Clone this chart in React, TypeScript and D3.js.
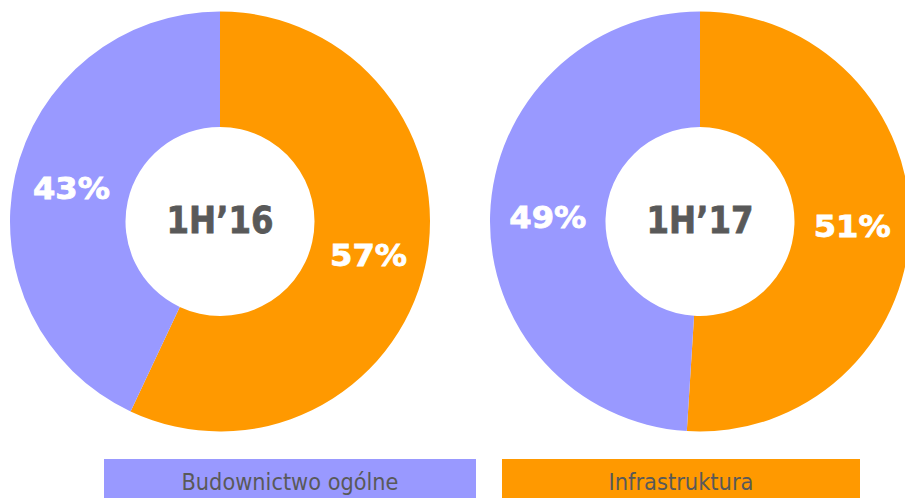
import React from 'react'
import * as d3 from 'd3'

// categories in the order they are drawn clockwise from 12 o'clock
const categories = ['Infrastruktura', 'Budownictwo ogólne']
const periods = ['1H’16', '1H’17']
const share1H16 = [57, 43]
const share1H17 = [51, 49]
const legendLabels = ['Budownictwo ogólne', 'Infrastruktura']

const COLORS: Record<string, string> = {
  Infrastruktura: '#FF9900',
  'Budownictwo ogólne': '#9999FF',
}
const TEXT_GRAY = '#595959'
const FONT = 'Verdana, "DejaVu Sans", sans-serif'

type TSlice = { category: string; value: number }

const W = 905
const H = 498
const OUTER = 210
const INNER = 94.5

const Donut = ({ cx, cy, values, title }: { cx: number; cy: number; values: number[]; title: string }) => {
  const rows: TSlice[] = categories.map((c, i) => ({ category: c, value: values[i] }))
  const pie = d3
    .pie<TSlice>()
    .sort(null)
    .value(d => d.value)
  const arc = d3.arc<d3.PieArcDatum<TSlice>>().innerRadius(INNER).outerRadius(OUTER)
  const arcs = pie(rows)
  return (
    <g transform={`translate(${cx},${cy})`}>
      {arcs.map(a => (
        <path key={a.data.category} d={arc(a) || ''} fill={COLORS[a.data.category]} />
      ))}
      {arcs.map(a => {
        const [x, y] = arc.centroid(a)
        return (
          <text
            key={'l' + a.data.category}
            x={x}
            y={y}
            dy='0.36em'
            textAnchor='middle'
            fill='#ffffff'
            stroke='#ffffff'
            strokeWidth={0.8}
            fontFamily={FONT}
            fontWeight='bold'
            fontSize={31}
            textLength={77}
            lengthAdjust='spacingAndGlyphs'
          >
            {a.data.value}%
          </text>
        )
      })}
      <text
        x={0}
        y={-2}
        dy='0.36em'
        textAnchor='middle'
        fill={TEXT_GRAY}
        stroke={TEXT_GRAY}
        strokeWidth={0.8}
        fontFamily={FONT}
        fontWeight='bold'
        fontSize={38}
        textLength={107}
        lengthAdjust='spacingAndGlyphs'
      >
        {title}
      </text>
    </g>
  )
}

const App = () => {
  const legendX = d3.scaleOrdinal<string, number>().domain(legendLabels).range([104, 502])
  const legendW = d3.scaleOrdinal<string, number>().domain(legendLabels).range([372, 358])
  const legendTextW = d3.scaleOrdinal<string, number>().domain(legendLabels).range([217, 145])
  return (
    <svg
      width={W}
      height={H}
      style={{ position: 'absolute', left: 0, top: 0, display: 'block', background: '#ffffff' }}
    >
      <Donut cx={220} cy={221.5} values={share1H16} title={periods[0]} />
      <Donut cx={700} cy={221.5} values={share1H17} title={periods[1]} />
      {legendLabels.map(l => (
        <g key={l}>
          <rect x={legendX(l)} y={459} width={legendW(l)} height={45} fill={COLORS[l]} />
          <text
            x={legendX(l) + legendW(l) / 2}
            y={490}
            textAnchor='middle'
            fill={TEXT_GRAY}
            fontFamily={FONT}
            fontSize={23}
            textLength={legendTextW(l)}
            lengthAdjust='spacingAndGlyphs'
          >
            {l}
          </text>
        </g>
      ))}
    </svg>
  )
}

export default App
